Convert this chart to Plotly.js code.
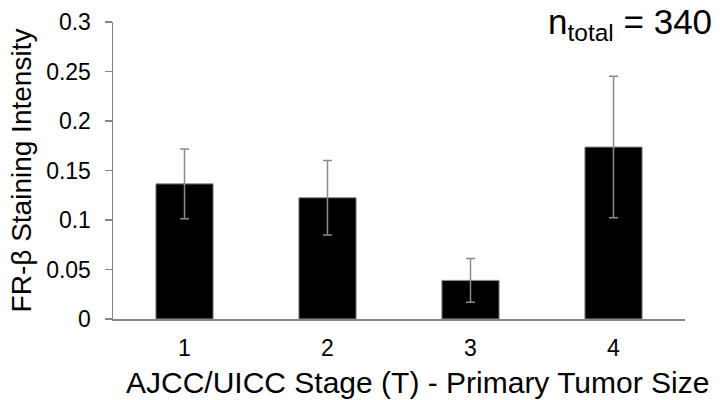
<!DOCTYPE html>
<html>
<head>
<meta charset="utf-8">
<script src="https://cdn.plot.ly/plotly-3.0.1.min.js"></script>
<style>html,body{margin:0;padding:0;background:#fff;}#chart{width:720px;height:400px;}</style>
</head>
<body>
<div id="chart"></div>
<script>
const categories = ["1", "2", "3", "4"];
const values = [0.1365, 0.1225, 0.039, 0.1737];
const errors = [0.0352, 0.0376, 0.0222, 0.0715];
const yTickVals = [0, 0.05, 0.1, 0.15, 0.2, 0.25, 0.3];
const yTickText = ["0", "0.05", "0.1", "0.15", "0.2", "0.25", "0.3"];
const xTitle = "AJCC/UICC Stage (T) - Primary Tumor Size";
const yTitle = "FR-β Staining Intensity";
const nLabel = "n<sub>total</sub> = 340";

const font = "Liberation Sans, Arial, sans-serif";

Plotly.newPlot("chart", [{
  type: "bar",
  x: categories,
  y: values,
  marker: {color: "#000000", line: {color: "#8c8c8c", width: 1}},
  error_y: {type: "data", array: errors, visible: true, color: "#8a8a8a", thickness: 1.5, width: 4.5}
}], {
  width: 720, height: 400,
  margin: {l: 113, r: 35, t: 22, b: 81},
  paper_bgcolor: "#fff", plot_bgcolor: "#fff",
  bargap: 0.6,
  showlegend: false,
  font: {family: font, color: "#000"},
  xaxis: {
    type: "category",
    showline: true, linecolor: "#868686", linewidth: 1.5,
    ticks: "", showgrid: false, zeroline: false,
    ticklabelstandoff: 8,
    tickfont: {size: 23, family: font}
  },
  yaxis: {
    range: [0, 0.3],
    tickvals: yTickVals, ticktext: yTickText,
    showline: true, linecolor: "#868686", linewidth: 1.5,
    ticks: "outside", ticklen: 7, tickcolor: "#868686", tickwidth: 1.5,
    ticklabelstandoff: 9,
    showgrid: false, zeroline: false,
    tickfont: {size: 23, family: font},
    title: {text: yTitle, font: {size: 28, family: font}, standoff: 6}
  },
  annotations: [{
    xref: "paper", yref: "paper",
    x: 1.05, y: 1.075, xanchor: "right", yanchor: "top",
    text: nLabel,
    showarrow: false,
    font: {size: 35, family: font, color: "#000"}
  }, {
    xref: "paper", yref: "paper",
    x: 0.533, y: -0.215, xanchor: "center", yanchor: "middle",
    text: xTitle,
    showarrow: false,
    font: {size: 30, family: font, color: "#000"}
  }]
}, {displayModeBar: false, staticPlot: true});
</script>
</body>
</html>
